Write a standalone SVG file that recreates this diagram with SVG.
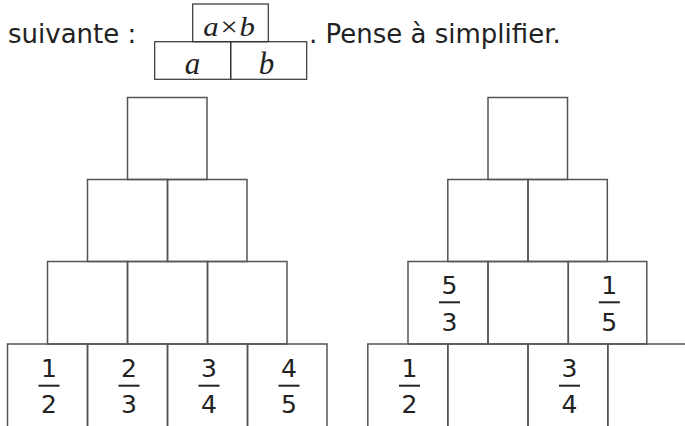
<svg xmlns="http://www.w3.org/2000/svg" width="685" height="426" viewBox="0 0 685 426">
<style>
  .cell { fill: none; stroke: #555; stroke-width: 1.5; }
  .hbox { fill: none; stroke: #333; stroke-width: 1.2; }
  .txt { font-family: "DejaVu Sans", sans-serif; font-size: 26px; fill: #222; }
  .num { font-family: "DejaVu Sans", sans-serif; font-size: 25px; fill: #222; text-anchor: middle; }
  .var { font-family: "Liberation Serif", serif; font-style: italic; font-size: 31px; fill: #222; text-anchor: middle; }
  .bar { stroke: #222; stroke-width: 2; }
</style>
<rect width="685" height="426" fill="#fff"/>

<g id="header">
  <text class="txt" x="8" y="42.5">suivante :</text>
  <text class="txt" x="309" y="42.5">. Pense à simplifier.</text>
</g>
<g id="rule-top">
  <rect class="hbox" x="192.7" y="4" width="75.6" height="37.7"/>
  <text class="var" transform="translate(229,36) scale(1.1,1)" x="0" y="0" style="font-size:28px">a×b</text>
</g>
<g id="rule-a">
  <rect class="hbox" x="154.7" y="41.7" width="76" height="37.6"/>
  <text class="var" x="192.5" y="74">a</text>
</g>
<g id="rule-b">
  <rect class="hbox" x="230.7" y="41.7" width="76" height="37.6"/>
  <text class="var" x="266.5" y="74">b</text>
</g>

<!-- Left pyramid -->
<g id="L1"><rect class="cell" x="127.5" y="97.5" width="79.5" height="82"/></g>
<g id="L2a"><rect class="cell" x="87.5" y="179.5" width="80" height="82"/></g>
<g id="L2b"><rect class="cell" x="167.5" y="179.5" width="79.5" height="82"/></g>
<g id="L3a"><rect class="cell" x="47.5" y="261.5" width="80" height="82.5"/></g>
<g id="L3b"><rect class="cell" x="127.5" y="261.5" width="80" height="82.5"/></g>
<g id="L3c"><rect class="cell" x="207.5" y="261.5" width="79.5" height="82.5"/></g>
<g id="L4a"><path class="cell" d="M7.5 426V344H87.5V426"/>
  <text class="num" x="49" y="377">1</text><line class="bar" x1="38.5" y1="385.7" x2="59.5" y2="385.7"/><text class="num" x="49" y="413.3">2</text></g>
<g id="L4b"><path class="cell" d="M87.5 426V344H167.5V426"/>
  <text class="num" x="129" y="377">2</text><line class="bar" x1="118.5" y1="385.7" x2="139.5" y2="385.7"/><text class="num" x="129" y="413.3">3</text></g>
<g id="L4c"><path class="cell" d="M167.5 426V344H247.5V426"/>
  <text class="num" x="209" y="377">3</text><line class="bar" x1="198.5" y1="385.7" x2="219.5" y2="385.7"/><text class="num" x="209" y="413.3">4</text></g>
<g id="L4d"><path class="cell" d="M247.5 426V344H327V426"/>
  <text class="num" x="289" y="377">4</text><line class="bar" x1="278.5" y1="385.7" x2="299.5" y2="385.7"/><text class="num" x="289" y="413.3">5</text></g>

<!-- Right pyramid -->
<g id="R1"><rect class="cell" x="488" y="97.5" width="79.5" height="82"/></g>
<g id="R2a"><rect class="cell" x="447.8" y="179.5" width="80.2" height="82"/></g>
<g id="R2b"><rect class="cell" x="528" y="179.5" width="79.3" height="82"/></g>
<g id="R3a"><rect class="cell" x="408" y="261.5" width="80" height="82.5"/>
  <text class="num" x="449.5" y="294.3">5</text><line class="bar" x1="439" y1="302.3" x2="460" y2="302.3"/><text class="num" x="449.5" y="330.7">3</text></g>
<g id="R3b"><rect class="cell" x="488" y="261.5" width="80.3" height="82.5"/></g>
<g id="R3c"><rect class="cell" x="568.3" y="261.5" width="78.5" height="82.5"/>
  <text class="num" x="609.3" y="294.3">1</text><line class="bar" x1="598.8" y1="302.3" x2="619.8" y2="302.3"/><text class="num" x="609.3" y="330.7">5</text></g>
<g id="R4a"><path class="cell" d="M367.8 426V344H447.8V426"/>
  <text class="num" x="409.5" y="377">1</text><line class="bar" x1="399" y1="385.7" x2="420" y2="385.7"/><text class="num" x="409.5" y="413.3">2</text></g>
<g id="R4b"><path class="cell" d="M447.8 426V344H528V426"/></g>
<g id="R4c"><path class="cell" d="M528 426V344H607.8V426"/>
  <text class="num" x="569.5" y="377">3</text><line class="bar" x1="559" y1="385.7" x2="580" y2="385.7"/><text class="num" x="569.5" y="413.3">4</text></g>
<g id="R4d"><path class="cell" d="M607.8 426V344H686"/></g>

<g id="connectors"></g>
</svg>
